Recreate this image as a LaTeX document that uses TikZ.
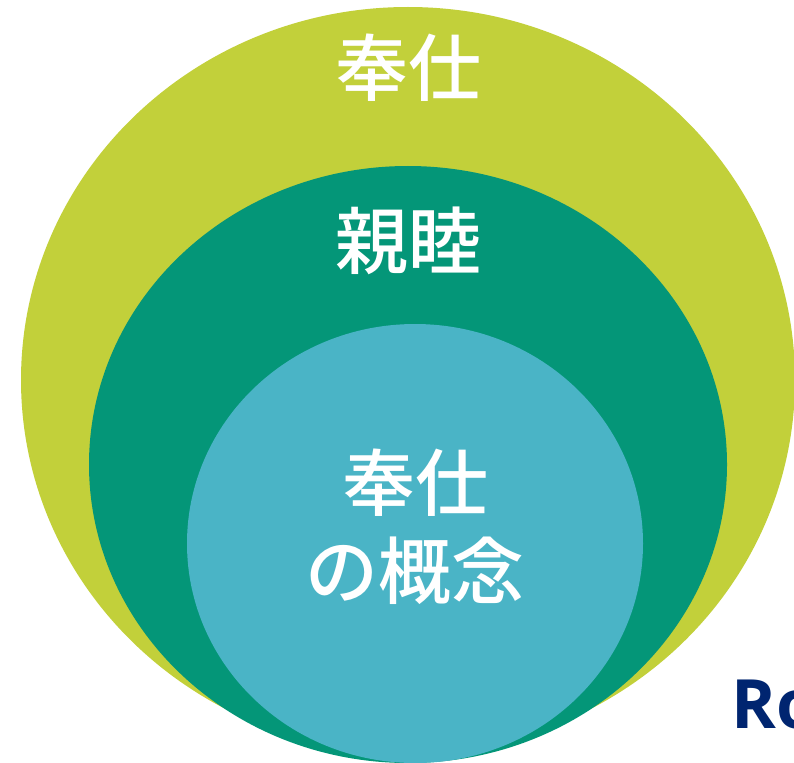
\documentclass[tikz,border=0pt]{standalone}
\usepackage{fontspec}
\newfontfamily\cjk{Noto Sans CJK JP Medium}
\setsansfont{Open Sans}
\definecolor{olive}{HTML}{C2D03A}
\definecolor{teal2}{HTML}{049678}
\definecolor{sky}{HTML}{4AB4C6}
\definecolor{navy}{HTML}{002570}
\tikzset{circlab/.style={text=white,font=\cjk\fontsize{73}{88}\selectfont,align=center,inner sep=0pt}}
\begin{document}
\begin{tikzpicture}[x=1pt,y=-1pt]
\useasboundingbox (0,0) rectangle (794,762);
\clip (0,0) rectangle (794,762);
\fill[olive] (408,380) ellipse [x radius=387,y radius=373];
\fill[teal2] (408,464.5) ellipse [x radius=319,y radius=298.5];
\fill[sky] (415,543.5) ellipse [x radius=228,y radius=219.5];
\node[circlab] (a) at (408,68) {奉仕};
\node[circlab] (b) at (408,241) {親睦};
\node[circlab] (c) at (415,527) {奉仕\\の概念};
\node[anchor=west,inner sep=0pt,text=navy,font=\sffamily\bfseries\fontsize{68}{68}\selectfont] (r) at (731,705) {Ro};
\end{tikzpicture}
\end{document}
